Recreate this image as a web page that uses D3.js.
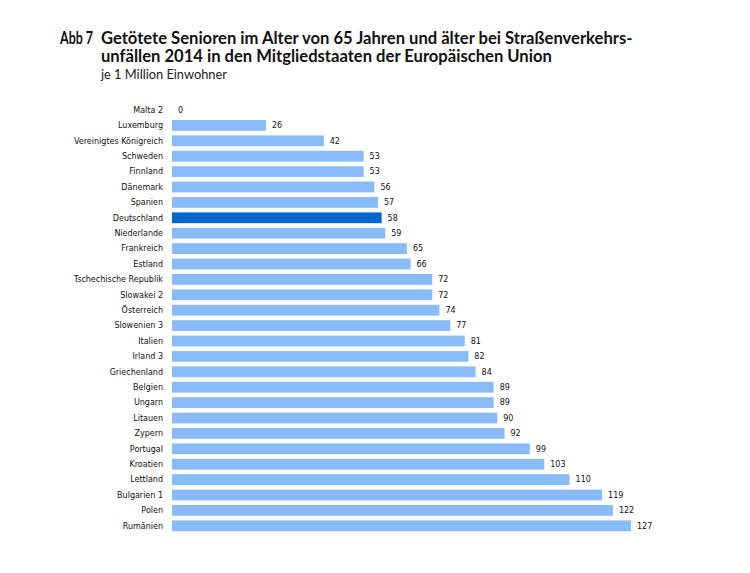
<!DOCTYPE html>
<html><head><meta charset="utf-8">
<script src="https://cdn.jsdelivr.net/npm/d3@7"></script>
<style>body{margin:0;background:#fff;}</style>
</head><body>
<script>
const countries = ["Malta 2","Luxemburg","Vereinigtes Königreich","Schweden","Finnland","Dänemark","Spanien","Deutschland","Niederlande","Frankreich","Estland","Tschechische Republik","Slowakei 2","Österreich","Slowenien 3","Italien","Irland 3","Griechenland","Belgien","Ungarn","Litauen","Zypern","Portugal","Kroatien","Lettland","Bulgarien 1","Polen","Rumänien"];
const values = [0,26,42,53,53,56,57,58,59,65,66,72,72,74,77,81,82,84,89,89,90,92,99,103,110,119,122,127];
const highlight = "Deutschland";
const titleLines = ["Getötete Senioren im Alter von 65 Jahren und älter bei Straßenverkehrs-","unfällen 2014 in den Mitgliedstaaten der Europäischen Union"];
const subtitle = "je 1 Million Einwohner";

const W=750,H=573;
const svg=d3.select("body").append("svg").attr("width",W).attr("height",H);
const x=d3.scaleLinear().domain([0,127]).range([172,631]);
const y=d3.scaleBand().domain(countries).range([102.3,533.5]).paddingInner(0.3).paddingOuter(0.15);

const tf="Lato, 'Open Sans', sans-serif";
svg.append("text").attr("x",60).attr("y",44).attr("font-family",tf).attr("font-weight",700).attr("font-size",16.6).attr("fill","#111")
 .attr("textLength",33).attr("lengthAdjust","spacingAndGlyphs").text("Abb 7");
svg.append("text").attr("x",101).attr("y",44).attr("font-family",tf).attr("font-weight",700).attr("font-size",16.6).attr("fill","#111").text(titleLines[0]);
svg.append("text").attr("x",101).attr("y",62).attr("font-family",tf).attr("font-weight",700).attr("font-size",16.6).attr("fill","#111").text(titleLines[1]);
svg.append("text").attr("x",101).attr("y",79).attr("font-family",tf).attr("font-size",12.8).attr("fill","#222").text(subtitle);

const g=svg.append("g");
g.selectAll("rect").data(countries).join("rect")
 .attr("x",x(0)).attr("y",d=>y(d)).attr("height",y.bandwidth())
 .attr("width",(d,i)=>x(values[i])-x(0))
 .attr("fill",d=>d===highlight?"#0066cc":"#88bbf7");
g.selectAll("text.lab").data(countries).join("text").attr("class","lab")
 .attr("x",163).attr("y",d=>y(d)+y.bandwidth()/2).attr("dy","0.35em")
 .attr("text-anchor","end").attr("font-family","'DejaVu Sans', sans-serif").attr("font-size",8).attr("fill","#111").text(d=>d);
g.selectAll("text.val").data(countries).join("text").attr("class","val")
 .attr("x",(d,i)=>x(values[i])+6).attr("y",d=>y(d)+y.bandwidth()/2).attr("dy","0.35em")
 .attr("font-family","'DejaVu Sans', sans-serif").attr("font-size",8).attr("fill","#111").text((d,i)=>values[i]);
</script>
</body></html>
